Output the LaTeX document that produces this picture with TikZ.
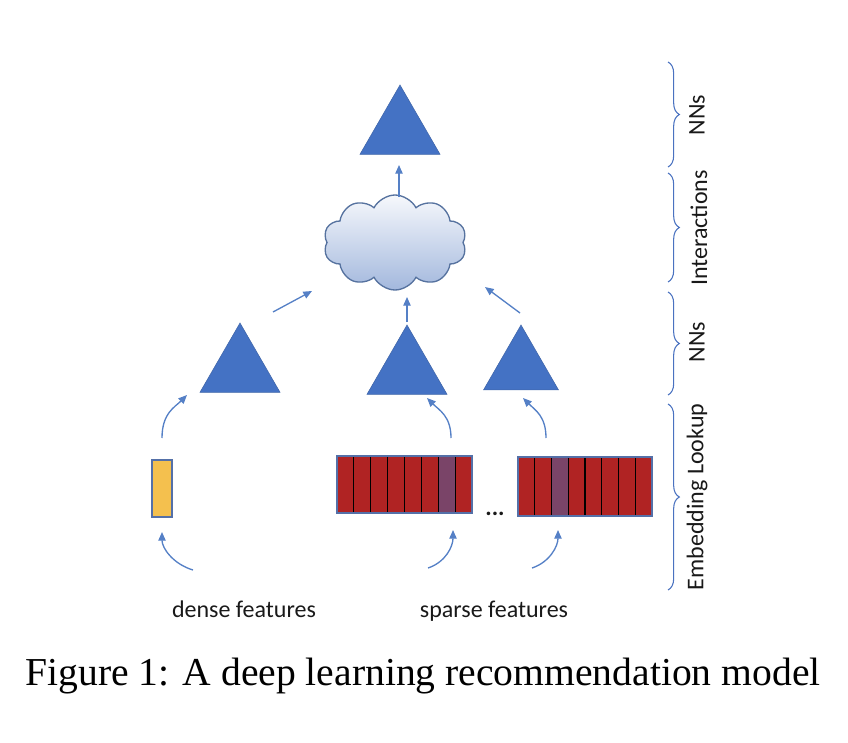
\documentclass[tikz,border=0pt]{standalone}
\usepackage{fontspec}
\setmainfont{Liberation Serif}
\newfontfamily\calfont{Carlito}
\usetikzlibrary{shapes.geometric,shapes.symbols,arrows.meta,decorations.pathreplacing}
\definecolor{triblue}{HTML}{4472C4}
\definecolor{triedge}{HTML}{3F65A8}
\definecolor{arrowblue}{HTML}{5580C6}
\definecolor{cellred}{HTML}{B02323}
\definecolor{cellpurple}{HTML}{7A4468}
\definecolor{boxedge}{HTML}{5470A8}
\definecolor{densey}{HTML}{F4C04E}
\definecolor{cloudtop}{HTML}{F6F8FC}
\definecolor{cloudbot}{HTML}{A3B8DD}
\definecolor{cloudedge}{HTML}{56729F}
\definecolor{braceblue}{HTML}{4A72C0}
\begin{document}
\begin{tikzpicture}[x=0.75pt,y=-0.75pt,
  nn/.style={regular polygon, regular polygon sides=3, fill=triblue, draw=triedge,
    line width=0.4pt, inner sep=0pt, minimum size=#1*0.75pt},
  nn/.default=92.4,
  conn/.style={draw=arrowblue, line width=1pt, -{Triangle[length=6.5pt,width=5.5pt]}},
  lab/.style={font=\calfont\fontsize{18}{20}\selectfont, inner sep=0pt, text=black!90},
  featbox/.style={draw=boxedge, line width=0.9pt, inner sep=0pt, fill=cellred},
  divider/.style={draw=black, line width=0.9pt},
  bracestyle/.style={decorate, decoration={brace, amplitude=8.5pt}, draw=braceblue, line width=0.8pt},
]
\useasboundingbox (0,0) rectangle (848,742);

% triangles
\node[nn] (t0) at (400,131.2) {};
\node[nn] (t1) at (240,369.2) {};
\node[nn] (t2) at (407,371.2) {};
\node[nn=86.6] (t3) at (521,368.3) {};

% cloud
\node[cloud, cloud puffs=10, cloud puff arc=125, cloud ignores aspect,
  minimum width=143*0.75pt, minimum height=95*0.75pt, inner sep=0pt,
  top color=cloudtop, bottom color=cloudbot, draw=cloudedge, line width=1pt] (cloud) at (395,242.5) {};

% feature boxes
\node[draw=boxedge, fill=densey, line width=0.9pt, inner sep=0pt,
  minimum width=20*0.75pt, minimum height=57*0.75pt] (dense) at (162,488.5) {};
\node[featbox, minimum width=135*0.75pt, minimum height=57*0.75pt] (sp1) at (404.5,484.5) {};
\node[featbox, minimum width=134*0.75pt, minimum height=59*0.75pt] (sp2) at (585,486.5) {};

\fill[cellpurple] ({337+6*16.875},456) rectangle ++(16.875,57);
\draw[boxedge, line width=0.9pt] ({337+6*16.875},456) rectangle ++(16.875,57);
\foreach \k in {1,...,7} \draw[divider] ({337+\k*16.875},456) -- ++(0,57);
\fill[cellpurple] ({518+2*16.75},457) rectangle ++(16.75,59);
\foreach \k in {1,...,7} \draw[divider] ({518+\k*16.75},457) -- ++(0,59);
\draw[boxedge, line width=0.9pt] (518,457) rectangle (652,516);
\draw[boxedge, line width=0.9pt] (337,456) rectangle (472,513);

\node[lab, anchor=base] (dots) at (495,515) {\textbf{...}};

% connectors
\coordinate (c0s) at (399,197); \coordinate (c0e) at (399,165);
\draw[conn] (c0s) -- (c0e);
\coordinate (c1s) at (273,312); \coordinate (c1e) at (312,291);
\draw[conn] (c1s) -- (c1e);
\coordinate (c2s) at (407,322); \coordinate (c2e) at (407,297);
\draw[conn] (c2s) -- (c2e);
\coordinate (c3s) at (520,313); \coordinate (c3e) at (485,287);
\draw[conn] (c3s) -- (c3e);

\coordinate (u1s) at (162,438); \coordinate (u1e) at (187,395);
\draw[conn] (u1s) .. controls +(0,-25) and +(-12,12) .. (u1e);
\coordinate (u2s) at (451,438); \coordinate (u2e) at (427,398);
\draw[conn] (u2s) .. controls +(0,-22) and +(12,12) .. (u2e);
\coordinate (u3s) at (546,438); \coordinate (u3e) at (523,398);
\draw[conn] (u3s) .. controls +(0,-22) and +(12,12) .. (u3e);

\coordinate (l1s) at (193,570); \coordinate (l1e) at (162,532);
\draw[conn] (l1s) .. controls +(-20,-6) and +(0,16) .. (l1e);
\coordinate (l2s) at (428,568); \coordinate (l2e) at (453,530);
\draw[conn] (l2s) .. controls +(18,-6) and +(0,16) .. (l2e);
\coordinate (l3s) at (532,568); \coordinate (l3e) at (558,530);
\draw[conn] (l3s) .. controls +(18,-6) and +(0,16) .. (l3e);

% labels
\node[lab, anchor=base] (dl) at (244,617) {dense features};
\node[lab, anchor=base] (sl) at (494,617) {sparse features};

% braces
\draw[bracestyle] (668,62) -- (668,167);
\draw[bracestyle] (668,173) -- (668,282);
\draw[bracestyle] (668,292) -- (668,395);
\draw[bracestyle] (668,404) -- (668,590);
\node[lab, rotate=90] (b1) at (697,115) {NNs};
\node[lab, rotate=90] (b2) at (699,228) {Interactions};
\node[lab, rotate=90] (b3) at (697,342) {NNs};
\node[lab, rotate=90] (b4) at (697,497) {Embedding Lookup};

% caption
\node[anchor=base, inner sep=0pt, font=\fontsize{29.7}{32}\selectfont] (cap) at (423,685)
  {Figure 1: A deep learning recommendation model};
\end{tikzpicture}
\end{document}
